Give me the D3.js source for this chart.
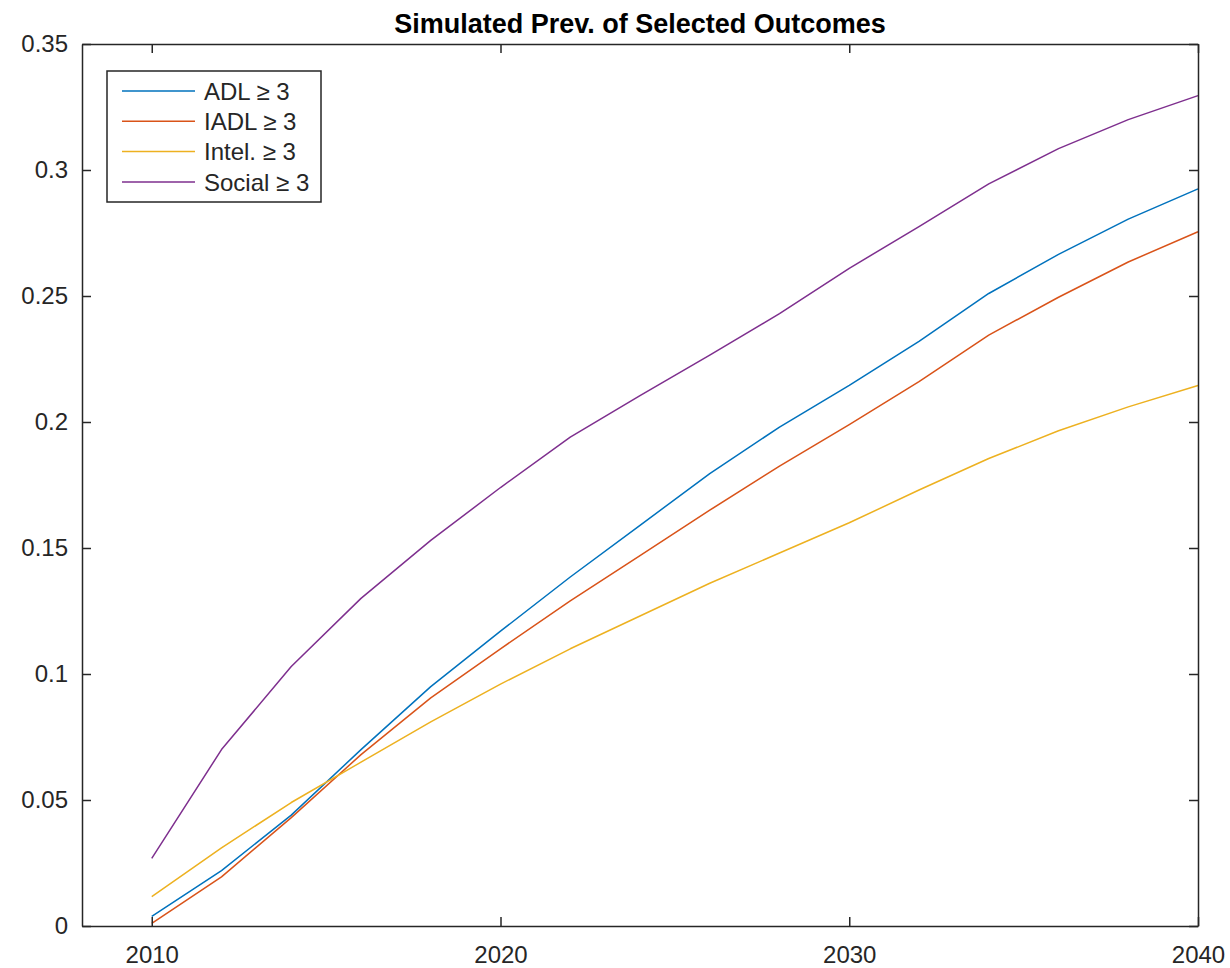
<!DOCTYPE html>
<html>
<head>
<meta charset="utf-8">
<script src="https://cdn.jsdelivr.net/npm/d3@7"></script>
<style>
  html, body { margin: 0; padding: 0; background: #fff; }
  svg { display: block; font-family: "Liberation Sans", Arial, Helvetica, sans-serif; }
</style>
</head>
<body>
<svg id="chart" width="1230" height="968"></svg>
<script>
// Simulated prevalence, every second year 2010–2040
const years = [2010, 2012, 2014, 2016, 2018, 2020, 2022, 2024, 2026, 2028, 2030, 2032, 2034, 2036, 2038, 2040];
const adl    = [0.0038, 0.0220, 0.0440, 0.0700, 0.0950, 0.1170, 0.1385, 0.1590, 0.1795, 0.1980, 0.2145, 0.2320, 0.2510, 0.2665, 0.2805, 0.2925];
const iadl   = [0.0010, 0.0195, 0.0430, 0.0680, 0.0905, 0.1100, 0.1290, 0.1470, 0.1650, 0.1825, 0.1990, 0.2160, 0.2345, 0.2495, 0.2635, 0.2755];
const intel  = [0.0117, 0.0310, 0.0490, 0.0650, 0.0810, 0.0960, 0.1100, 0.1230, 0.1360, 0.1480, 0.1600, 0.1730, 0.1855, 0.1965, 0.2060, 0.2145];
const social = [0.0268, 0.0700, 0.1030, 0.1300, 0.1530, 0.1740, 0.1940, 0.2105, 0.2265, 0.2430, 0.2610, 0.2775, 0.2945, 0.3085, 0.3200, 0.3295];

const seriesNames  = ["ADL \u2265 3", "IADL \u2265 3", "Intel. \u2265 3", "Social \u2265 3"];
const seriesValues = [adl, iadl, intel, social];
const seriesColors = ["#0072BD", "#D95319", "#EDB120", "#7E2F8E"];

const xTicks = [2010, 2020, 2030, 2040];
const yTicks = [0, 0.05, 0.1, 0.15, 0.2, 0.25, 0.3, 0.35];
const titleText = "Simulated Prev. of Selected Outcomes";

const svg = d3.select("#chart");
const plotLeft = 82, plotRight = 1198, plotTop = 44, plotBottom = 926;
const axisColor = "#262626";

const x = d3.scaleLinear().domain([2008, 2040]).range([plotLeft, plotRight]);
const y = d3.scaleLinear().domain([0, 0.35]).range([plotBottom, plotTop]);

// Series lines
const line = d3.line().x((d, i) => x(years[i])).y(d => y(d));
seriesValues.forEach((vals, k) => {
  svg.append("path")
    .datum(vals)
    .attr("fill", "none")
    .attr("stroke", seriesColors[k])
    .attr("stroke-width", 1.5)
    .attr("stroke-linejoin", "round")
    .attr("d", line);
});

// Axes: ticks pointing inward on all four sides
const fmtY = d => d === 0 ? "0" : String(+d.toFixed(2));
const tickLen = 9;

const gB = svg.append("g").attr("transform", `translate(0,${plotBottom})`)
  .call(d3.axisBottom(x).tickValues(xTicks).tickFormat(d3.format("d")).tickSizeInner(-tickLen).tickSizeOuter(0).tickPadding(20));
const gT = svg.append("g").attr("transform", `translate(0,${plotTop})`)
  .call(d3.axisTop(x).tickValues(xTicks).tickFormat("").tickSizeInner(-tickLen).tickSizeOuter(0));
const gL = svg.append("g").attr("transform", `translate(${plotLeft},0)`)
  .call(d3.axisLeft(y).tickValues(yTicks).tickFormat(fmtY).tickSizeInner(-tickLen).tickSizeOuter(0).tickPadding(14));
const gR = svg.append("g").attr("transform", `translate(${plotRight},0)`)
  .call(d3.axisRight(y).tickValues(yTicks).tickFormat("").tickSizeInner(-tickLen).tickSizeOuter(0));

[gB, gT, gL, gR].forEach(g => {
  g.select(".domain").attr("stroke", axisColor).attr("stroke-width", 1.5);
  g.selectAll(".tick line").attr("stroke", axisColor).attr("stroke-width", 1.5);
  g.selectAll(".tick text").attr("fill", axisColor).style("font-size", "24px")
    .style("font-family", "'Liberation Sans', Arial, sans-serif");
});
gB.selectAll(".tick text").attr("dy", "0.71em");

// Title
svg.append("text")
  .attr("x", (plotLeft + plotRight) / 2)
  .attr("y", 33)
  .attr("text-anchor", "middle")
  .attr("fill", "#000")
  .style("font-size", "27px")
  .style("font-weight", "bold")
  .text(titleText);

// Legend
const lg = svg.append("g").attr("transform", "translate(107,71)");
lg.append("rect")
  .attr("width", 214).attr("height", 131)
  .attr("fill", "#fff").attr("stroke", axisColor).attr("stroke-width", 1.5);
seriesNames.forEach((name, k) => {
  const cy = 20 + k * 30.3;
  lg.append("line")
    .attr("x1", 15).attr("x2", 88).attr("y1", cy).attr("y2", cy)
    .attr("stroke", seriesColors[k]).attr("stroke-width", 1.5);
  lg.append("text")
    .attr("x", 97).attr("y", cy).attr("dy", "0.36em")
    .attr("fill", axisColor)
    .style("font-size", "24px")
    .text(name);
});
</script>
</body>
</html>
